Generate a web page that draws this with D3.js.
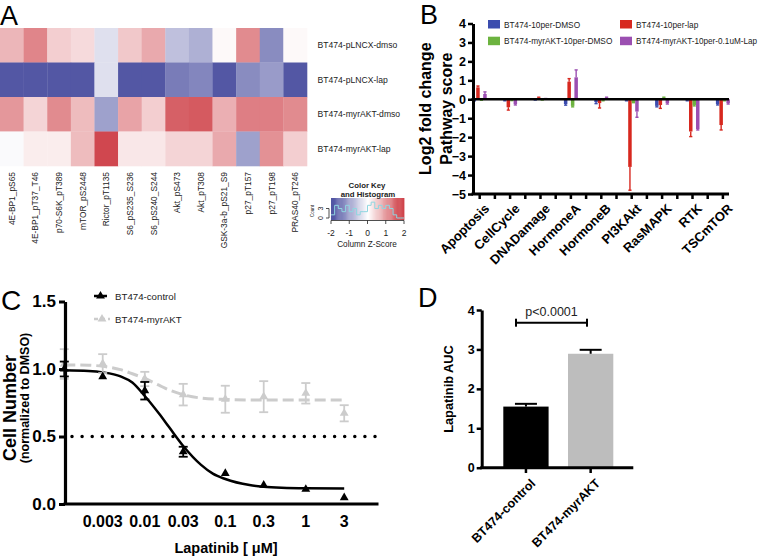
<!DOCTYPE html>
<html><head><meta charset="utf-8">
<script src="https://cdn.jsdelivr.net/npm/d3@7"></script>
<style>body{margin:0;background:#fff} svg text{font-family:Arial,"Liberation Sans",sans-serif}</style>
</head><body>
<svg id="c" width="762" height="558"></svg>
<script>
// ---------- Panel A data ----------
const heatCols = ["4E-BP1_pS65","4E-BP1_pT37_T46","p70-S6K_pT389","mTOR_pS2448","Rictor_pT1135","S6_pS235_S236","S6_pS240_S244","Akt_pS473","Akt_pT308","GSK-3a-b_pS21_S9","p27_pT157","p27_pT198","PRAS40_pT246"];
const heatRows = ["BT474-pLNCX-dmso","BT474-pLNCX-lap","BT474-myrAKT-dmso","BT474-myrAKT-lap"];
const zPLNCXdmso = [0.6,1.0,0.4,0.3,-0.3,0.45,0.7,-0.6,-0.75,0.05,0.95,-1.1,0.05];
const zPLNCXlap  = [-1.6,-1.6,-1.6,-1.6,-0.3,-1.6,-1.6,-1.25,-1.15,-1.6,-1.1,-0.95,-1.6];
const zMyrDmso   = [0.85,0.35,0.95,0.55,-0.9,0.75,0.4,1.3,1.35,0.65,1.05,1.05,0.95];
const zMyrLap    = [-0.05,0.15,0.15,0.55,1.5,0.2,0.2,0.35,0.35,0.7,-0.9,0.9,0.4];
const keyTicks = [-2,-1,0,1,2];
const histCounts = [1,4,3,2,4,2,3,1,2,2,4,5,3,4,3,4,3,1,0,0];
const countTicks = [0,3];

// ---------- Panel B data ----------
const pathways = ["Apoptosis","CellCycle","DNADamage","HormoneA","HormoneB","PI3KAkt","RasMAPK","RTK","TSCmTOR"];
const seriesB = ["BT474-10per-DMSO","BT474-10per-lap","BT474-myrAKT-10per-DMSO","BT474-myrAKT-10per-0.1uM-Lap"];
const blueVals   = [-0.05,-0.05,-0.02,-0.25,-0.15,-0.05,-0.35,-0.05,-0.25];
const blueErr    = [0.03,0.03,0.02,0.06,0.08,0.03,0.05,0.03,0.05];
const redVals    = [0.63,-0.42,0.08,0.93,-0.2,-3.57,-0.3,-1.7,-1.36];
const redErr     = [0.07,0.15,0.03,0.16,0.26,1.23,0.18,0.27,0.26];
const greenVals  = [-0.03,-0.05,-0.02,-0.35,-0.05,-0.15,0.08,-0.3,-0.05];
const greenErr   = [0.02,0.02,0.02,0.05,0.03,0.03,0.03,0.05,0.03];
const purpleVals = [0.28,-0.25,0.02,1.16,0.08,-0.65,-0.2,-1.57,-0.2];
const purpleErr  = [0.11,0.05,0.02,0.39,0.03,0.3,0.05,0.05,0.05];
const yTicksB = [-5,-4,-3,-2,-1,0,1,2,3,4];

// ---------- Panel C data ----------
const doses = [0.001,0.003,0.01,0.03,0.1,0.3,1,3];
const doseTickLabels = ["0.003","0.01","0.03","0.1","0.3","1","3"];
const ctrlMean = [1.0,0.943,0.839,0.387,0.227,0.14,0.109,0.047];
const ctrlErr  = [0.055,0.0,0.065,0.037,0,0,0,0];
const myrMean  = [1.037,1.04,0.926,0.81,0.776,0.795,0.82,0.672];
const myrErr   = [0.11,0.07,0.053,0.08,0.1,0.115,0.076,0.06];
const ctrlFitX = [0.001,0.002,0.003,0.005,0.007,0.01,0.015,0.02,0.03,0.05,0.07,0.1,0.2,0.3,0.5,1,3];
const ctrlFitY = [0.99,0.985,0.975,0.945,0.9,0.8,0.67,0.57,0.43,0.29,0.225,0.185,0.14,0.128,0.12,0.116,0.115];
const myrFitX  = [0.001,0.002,0.003,0.005,0.007,0.01,0.015,0.02,0.03,0.05,0.1,0.3,1,3];
const myrFitY  = [1.03,1.028,1.02,0.995,0.965,0.93,0.88,0.845,0.81,0.785,0.775,0.77,0.77,0.77];
const yTicksC = [0,0.5,1.0,1.5];

// ---------- Panel D data ----------
const dGroups = ["BT474-control","BT474-myrAKT"];
const dValues = [1.55,2.89];
const dErrors = [0.07,0.1];
const yTicksD = [0,1,2,3,4];

const svg = d3.select("#c");
svg.append("rect").attr("width",762).attr("height",558).attr("fill","#fff");

function panelLabel(t,x,y,size){
  svg.append("text").attr("x",x).attr("y",y).attr("font-size",size).text(t);
}

// ================= Panel A =================
panelLabel("A",0,25,27);
const zRows = [zPLNCXdmso,zPLNCXlap,zMyrDmso,zMyrLap];
const xA = d3.scaleBand().domain(heatCols).range([0,307]);
const yA = d3.scaleBand().domain(heatRows).range([28,166]);
const heatColor = d3.scaleLinear().domain([-1.6,0,1.6]).range(["#5357a4","#ffffff","#cd3b43"]).clamp(true);
const gA = svg.append("g");
heatRows.forEach((r,i)=>{
  heatCols.forEach((c,j)=>{
    gA.append("rect").attr("x",xA(c)).attr("y",yA(r)).attr("width",xA.bandwidth()+0.3).attr("height",yA.bandwidth()+0.3)
      .attr("fill",heatColor(zRows[i][j]));
  });
  gA.append("text").attr("x",317.5).attr("y",yA(r)+yA.bandwidth()/2).attr("dy","0.35em")
    .attr("font-size",8.6).attr("fill","#222").text(r);
});
heatCols.forEach(c=>{
  const cx = xA(c)+xA.bandwidth()/2;
  gA.append("text").attr("transform",`translate(${cx+3},172) rotate(-90)`).attr("text-anchor","end")
    .attr("font-size",8.4).attr("fill","#222").text(c);
});
// color key
const kx = d3.scaleLinear().domain([-2,2]).range([331,404]);
const gK = svg.append("g");
d3.range(-2,2,0.05).forEach(v=>{
  gK.append("rect").attr("x",kx(v)).attr("y",198).attr("width",kx(v+0.05)-kx(v)+0.4).attr("height",22).attr("fill",heatColor(v*0.85));
});
const kc = d3.scaleLinear().domain([0,6]).range([218,199]);
const binW = 4/histCounts.length;
const histPts = histCounts.map((c,i)=>[-2+i*binW,c]).concat([[2,histCounts[histCounts.length-1]]]);
gK.append("path").attr("d",d3.line().x(d=>kx(d[0])).y(d=>kc(d[1])).curve(d3.curveStepAfter)(histPts))
  .attr("fill","none").attr("stroke","#8fd6e0").attr("stroke-width",1);
gK.append("line").attr("x1",331).attr("x2",404).attr("y1",220.5).attr("y2",220.5).attr("stroke","#222").attr("stroke-width",0.8);
keyTicks.forEach(t=>{
  gK.append("line").attr("x1",kx(t)).attr("x2",kx(t)).attr("y1",220.5).attr("y2",224).attr("stroke","#222").attr("stroke-width",0.8);
  gK.append("text").attr("x",kx(t)).attr("y",236).attr("text-anchor","middle").attr("font-size",8.5).attr("fill","#222").text(t);
});
gK.append("line").attr("x1",329).attr("x2",329).attr("y1",kc(0)).attr("y2",kc(3)).attr("stroke","#222").attr("stroke-width",0.8);
countTicks.forEach(t=>{
  gK.append("line").attr("x1",326).attr("x2",329).attr("y1",kc(t)).attr("y2",kc(t)).attr("stroke","#222").attr("stroke-width",0.8);
  gK.append("text").attr("transform",`translate(323,${kc(t)}) rotate(-90)`).attr("text-anchor","middle").attr("font-size",7).attr("fill","#222").text(t);
});
gK.append("text").attr("transform",`translate(314,211) rotate(-90)`).attr("text-anchor","middle").attr("font-size",4.5).attr("fill","#222").text("Count");
gK.append("text").attr("x",367).attr("y",188).attr("text-anchor","middle").attr("font-size",7.8).attr("font-weight","bold").attr("fill","#222").text("Color Key");
gK.append("text").attr("x",368).attr("y",196.5).attr("text-anchor","middle").attr("font-size",7.8).attr("font-weight","bold").attr("fill","#222").text("and Histogram");
gK.append("text").attr("x",367).attr("y",247).attr("text-anchor","middle").attr("font-size",8.2).attr("fill","#222").text("Column Z-Score");

// ================= Panel B =================
panelLabel("B",420,24,27);
const yB = d3.scaleLinear().domain([-5,4]).range([194,23.5]);
const xB = d3.scaleBand().domain(pathways).range([464.5,738.1]);
const xSub = d3.scaleBand().domain(seriesB).range([-7,7]);
const colorsB = ["#3b4cae","#d7281f","#6cb33f","#9b4fb1"];
const valsB = [blueVals,redVals,greenVals,purpleVals];
const errsB = [blueErr,redErr,greenErr,purpleErr];
const gB = svg.append("g");
seriesB.forEach((s,si)=>{
  pathways.forEach((p,pi)=>{
    const v = valsB[si][pi], e = errsB[si][pi];
    const cx = xB(p)+xB.bandwidth()/2 + xSub(s);
    gB.append("rect").attr("x",cx).attr("width",xSub.bandwidth())
      .attr("y",yB(Math.max(0,v))).attr("height",Math.abs(yB(v)-yB(0)))
      .attr("fill",colorsB[si]);
    const end = v>=0 ? v+e : v-e;
    const mx = cx + xSub.bandwidth()/2;
    gB.append("line").attr("x1",mx).attr("x2",mx).attr("y1",yB(v)).attr("y2",yB(end)).attr("stroke",colorsB[si]).attr("stroke-width",1.4);
    gB.append("line").attr("x1",mx-1.6).attr("x2",mx+1.6).attr("y1",yB(end)).attr("y2",yB(end)).attr("stroke",colorsB[si]).attr("stroke-width",1.4);
  });
});
// y axis
const axB = gB.append("g").attr("transform","translate(473,0)")
  .call(d3.axisLeft(yB).tickValues(yTicksB).tickSize(5).tickSizeOuter(0).tickPadding(2).tickFormat(d3.format("d")));
axB.select(".domain").attr("stroke-width",3);
axB.selectAll(".tick line").attr("stroke-width",2.5);
axB.selectAll(".tick text").attr("font-size",12.5).attr("font-weight","bold").attr("font-family","Arial, Liberation Sans, sans-serif");
// zero line and bottom axis
gB.append("line").attr("x1",471.5).attr("x2",729).attr("y1",yB(0)).attr("y2",yB(0)).attr("stroke","#000").attr("stroke-width",2.5);
gB.append("line").attr("x1",471.5).attr("x2",729).attr("y1",yB(-5)).attr("y2",yB(-5)).attr("stroke","#000").attr("stroke-width",3);
pathways.forEach((p,i)=>{
  const c = xB(p)+xB.bandwidth()/2;
  const ts = i<pathways.length-1 ? [c, c+xB.bandwidth()/2] : [c];
  ts.forEach(t=>gB.append("line").attr("x1",t).attr("x2",t).attr("y1",yB(-5)).attr("y2",yB(-5)+5).attr("stroke","#000").attr("stroke-width",2.5));
  gB.append("text").attr("transform",`translate(${c+4},${yB(-5)+9}) rotate(-45)`).attr("text-anchor","end").attr("dy","0.7em")
    .attr("font-size",13).attr("font-weight","bold").text(p);
});
gB.append("text").attr("transform","translate(431,108.7) rotate(-90)").attr("text-anchor","middle").attr("font-size",16).attr("font-weight","bold").text("Log2 fold change");
gB.append("text").attr("transform","translate(452,108.7) rotate(-90)").attr("text-anchor","middle").attr("font-size",16).attr("font-weight","bold").text("Pathway score");
// legend
const legPos = [[488,20],[620,20],[488,36.7],[620,36.7]];
seriesB.forEach((s,i)=>{
  gB.append("rect").attr("x",legPos[i][0]).attr("y",legPos[i][1]).attr("width",12).attr("height",8.5).attr("fill",colorsB[i]);
  const fs = 8.3;
  const t = gB.append("text").attr("x",legPos[i][0]+16).attr("y",legPos[i][1]+7.5).attr("font-size",fs).attr("fill","#222").text(s);
  const maxW = i%2===1 ? 121 : 112;
  const w = t.node().getComputedTextLength();
  if (w > maxW) t.attr("font-size", (fs*maxW/w).toFixed(2));
});

// ================= Panel C =================
panelLabel("C",1,310,28);
const xC = d3.scaleLog().domain([0.001,8]).range([64.3,378.5]);
const yC = d3.scaleLinear().domain([0,1.5]).range([504,301.5]);
const gC = svg.append("g");
// dotted 0.5 line
gC.append("line").attr("x1",72).attr("x2",378).attr("y1",yC(0.5)).attr("y2",yC(0.5))
  .attr("stroke","#000").attr("stroke-width",3.5).attr("stroke-linecap","round").attr("stroke-dasharray","0 10.1");
const lineC = d3.line().x(d=>xC(d[0])).y(d=>yC(d[1])).curve(d3.curveMonotoneX);
const grey = "#cccccc";
gC.append("path").attr("d",lineC(myrFitX.map((x,i)=>[x,myrFitY[i]]))).attr("fill","none").attr("stroke",grey).attr("stroke-width",3).attr("stroke-dasharray","11,5");
gC.append("path").attr("d",lineC(ctrlFitX.map((x,i)=>[x,ctrlFitY[i]]))).attr("fill","none").attr("stroke","#000").attr("stroke-width",2.5);
function errBars(means,errs,col){
  doses.forEach((d,i)=>{
    if(!errs[i]) return;
    const x = xC(d), y1 = yC(means[i]-errs[i]), y2 = yC(means[i]+errs[i]);
    gC.append("line").attr("x1",x).attr("x2",x).attr("y1",y1).attr("y2",y2).attr("stroke",col).attr("stroke-width",1.8);
    [y1,y2].forEach(y=>gC.append("line").attr("x1",x-4.5).attr("x2",x+4.5).attr("y1",y).attr("y2",y).attr("stroke",col).attr("stroke-width",1.8));
  });
}
const tri = d3.symbol().type(d3.symbolTriangle).size(34);
errBars(myrMean,myrErr,grey);
doses.forEach((d,i)=>gC.append("path").attr("d",tri()).attr("transform",`translate(${xC(d)},${yC(myrMean[i])})`).attr("fill",grey));
errBars(ctrlMean,ctrlErr,"#000");
doses.forEach((d,i)=>gC.append("path").attr("d",tri()).attr("transform",`translate(${xC(d)},${yC(ctrlMean[i])})`).attr("fill","#000"));
// axes
const axCy = gC.append("g").attr("transform","translate(65,0)")
  .call(d3.axisLeft(yC).tickValues(yTicksC).tickSize(6).tickSizeOuter(0).tickPadding(3).tickFormat(d3.format(".1f")));
axCy.select(".domain").attr("stroke-width",3.2);
axCy.selectAll(".tick line").attr("stroke-width",3);
axCy.selectAll(".tick text").attr("font-size",17).attr("font-weight","bold").attr("font-family","Arial, Liberation Sans, sans-serif");
gC.append("line").attr("x1",63.5).attr("x2",378.5).attr("y1",504).attr("y2",504).attr("stroke","#000").attr("stroke-width",3.2);
doses.slice(1).forEach((d,i)=>{
  gC.append("text").attr("x",xC(d)).attr("y",527).attr("text-anchor","middle").attr("font-size",16).attr("font-weight","bold").text(doseTickLabels[i]);
});
gC.append("text").attr("x",226).attr("y",553).attr("text-anchor","middle").attr("font-size",14.5).attr("font-weight","bold").text("Lapatinib [ μM]");
gC.append("text").attr("transform","translate(16,408) rotate(-90)").attr("text-anchor","middle").attr("font-size",18).attr("font-weight","bold").text("Cell Number");
gC.append("text").attr("transform","translate(29,398) rotate(-90)").attr("text-anchor","middle").attr("font-size",12.5).attr("font-weight","bold").text("(normalized to DMSO)");
// legend
gC.append("line").attr("x1",94).attr("x2",107).attr("y1",296).attr("y2",296).attr("stroke","#000").attr("stroke-width",2.5);
gC.append("path").attr("d",tri()).attr("transform","translate(100.5,296)").attr("fill","#000");
gC.append("text").attr("x",115).attr("y",299.5).attr("font-size",9.7).attr("fill","#222").text("BT474-control");
gC.append("line").attr("x1",94).attr("x2",110).attr("y1",319).attr("y2",319).attr("stroke",grey).attr("stroke-width",2.5).attr("stroke-dasharray","4,3");
gC.append("path").attr("d",tri()).attr("transform","translate(102,319)").attr("fill",grey);
gC.append("text").attr("x",115).attr("y",322.5).attr("font-size",9.7).attr("fill","#222").text("BT474-myrAKT");

// ================= Panel D =================
panelLabel("D",418,307,27);
const yD = d3.scaleLinear().domain([0,4]).range([467.7,310]);
const xD = d3.scaleBand().domain(dGroups).range([493.6,623]).paddingInner(0.3).paddingOuter(0.15);
const dColors = ["#000000","#bdbdbd"];
const gD = svg.append("g");
dGroups.forEach((g,i)=>{
  gD.append("rect").attr("x",xD(g)).attr("width",xD.bandwidth()).attr("y",yD(dValues[i])).attr("height",yD(0)-yD(dValues[i])).attr("fill",dColors[i]);
  const cx = xD(g)+xD.bandwidth()/2, ye = yD(dValues[i]+dErrors[i]);
  gD.append("line").attr("x1",cx).attr("x2",cx).attr("y1",yD(dValues[i])).attr("y2",ye).attr("stroke","#000").attr("stroke-width",2);
  gD.append("line").attr("x1",cx-11).attr("x2",cx+11).attr("y1",ye).attr("y2",ye).attr("stroke","#000").attr("stroke-width",2);
  gD.append("line").attr("x1",cx).attr("x2",cx).attr("y1",467.7).attr("y2",473).attr("stroke","#000").attr("stroke-width",2.5);
  gD.append("text").attr("transform",`translate(${cx+4},${478}) rotate(-45)`).attr("text-anchor","end").attr("dy","0.7em")
    .attr("font-size",12.5).attr("font-weight","bold").text(g);
});
const axDy = gD.append("g").attr("transform","translate(481.7,0)")
  .call(d3.axisLeft(yD).tickValues(yTicksD).tickSize(5).tickSizeOuter(0).tickPadding(2).tickFormat(d3.format("d")));
axDy.select(".domain").attr("stroke-width",3);
axDy.selectAll(".tick line").attr("stroke-width",2.5);
axDy.selectAll(".tick text").attr("font-size",12.5).attr("font-weight","bold").attr("font-family","Arial, Liberation Sans, sans-serif");
gD.append("line").attr("x1",480.2).attr("x2",633.3).attr("y1",467.7).attr("y2",467.7).attr("stroke","#000").attr("stroke-width",3);
gD.append("text").attr("transform","translate(453,389) rotate(-90)").attr("text-anchor","middle").attr("font-size",12.8).attr("font-weight","bold").text("Lapatinib AUC");
// significance bracket
const bx1 = xD(dGroups[0])+12.7, bx2 = xD(dGroups[1])+19;
gD.append("line").attr("x1",bx1).attr("x2",bx2).attr("y1",322.7).attr("y2",322.7).attr("stroke","#000").attr("stroke-width",2);
[bx1,bx2].forEach(x=>gD.append("line").attr("x1",x).attr("x2",x).attr("y1",318.7).attr("y2",326.7).attr("stroke","#000").attr("stroke-width",2));
gD.append("text").attr("x",(bx1+bx2)/2).attr("y",316).attr("text-anchor","middle").attr("font-size",12.5).attr("fill","#222").text("p<0.0001");
</script>
</body></html>
